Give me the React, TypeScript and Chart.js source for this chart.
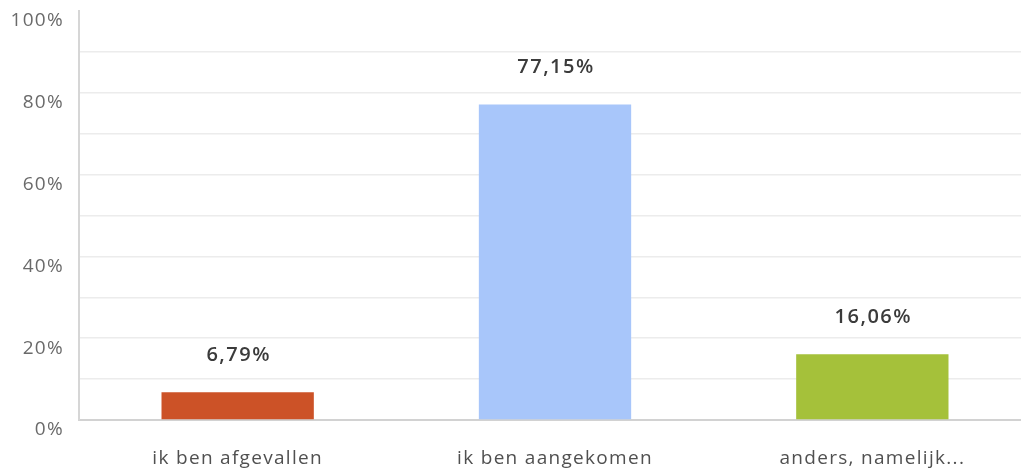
import React, { useEffect, useRef } from "react";
import { Chart, registerables } from "chart.js";

Chart.register(...registerables);

const categories = ["ik ben afgevallen", "ik ben aangekomen", "anders, namelijk..."];
const values = [6.79, 77.15, 16.06];
const barColors = ["#cc5227", "#a8c6fa", "#a5c13a"];
const valueLabels = ["6,79%", "77,15%", "16,06%"];

const FONT = "'Open Sans', sans-serif";

const spacingPlugin = {
  id: "letterSpacing",
  beforeUpdate(chart: any) {
    chart.ctx.letterSpacing = "1.3px";
  },
  beforeDraw(chart: any) {
    chart.ctx.letterSpacing = "1.3px";
  },
};

const valueLabelPlugin = {
  id: "valueLabels",
  afterDatasetsDraw(chart: any) {
    const ctx = chart.ctx;
    const meta = chart.getDatasetMeta(0);
    ctx.save();
    ctx.letterSpacing = "1.5px";
    ctx.font = `600 20px ${FONT}`;
    ctx.fillStyle = "#3b3b3b";
    ctx.textAlign = "center";
    ctx.textBaseline = "middle";
    meta.data.forEach((bar: any, i: number) => {
      ctx.fillText(valueLabels[i], bar.x + 1, bar.y - 37);
    });
    ctx.restore();
  },
};

export default function App() {
  const ref = useRef<HTMLCanvasElement | null>(null);
  useEffect(() => {
    document.body.style.margin = "0";
    const chart = new Chart(ref.current as HTMLCanvasElement, {
      type: "bar",
      data: {
        labels: categories,
        datasets: [
          {
            data: values,
            backgroundColor: barColors,
            barPercentage: 0.48,
            categoryPercentage: 1,
          },
        ],
      },
      options: {
        responsive: false,
        animation: false,
        layout: { padding: { top: 11, right: 0, left: 0, bottom: 0 } },
        plugins: { legend: { display: false }, tooltip: { enabled: false } },
        scales: {
          x: {
            grid: { color: "rgba(0,0,0,0)", drawTicks: false },
            border: { display: true, color: "#d2d2d2", width: 2 },
            ticks: {
              color: "#505050",
              font: { family: FONT, size: 19 },
              padding: 27,
            },
            afterFit: (s: any) => {
              s.height = 48;
              s.paddingLeft = 0;
              s.paddingRight = 0;
            },
          },
          y: {
            min: 0,
            max: 100,
            ticks: {
              stepSize: 10,
              color: "#6a6a6a",
              font: { family: FONT, size: 19 },
              padding: 15,
              labelOffset: 10,
              callback: (v: any) => (Number(v) % 20 === 0 ? `${v}%` : ""),
            },
            grid: {
              color: (c: any) => (c.tick && c.tick.value === 100 ? "rgba(0,0,0,0)" : "#ececec"),
              lineWidth: 1.5,
              drawTicks: false,
            },
            border: { display: true, color: "#d6d6d6", width: 2 },
            afterFit: (s: any) => {
              s.width = 79;
              s.paddingTop = 0;
              s.paddingBottom = 0;
            },
          },
        },
      },
      plugins: [spacingPlugin, valueLabelPlugin],
    });
    return () => chart.destroy();
  }, []);
  return (
    <div style={{ width: 1021, height: 468, overflow: "hidden" }}>
      <canvas ref={ref} width={1031} height={468} />
    </div>
  );
}
